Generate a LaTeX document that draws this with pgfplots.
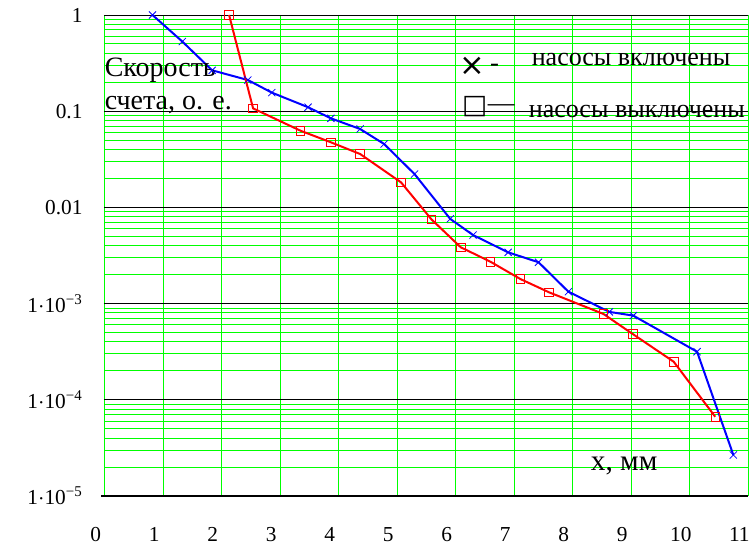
\documentclass[border=0pt]{standalone}
\usepackage{pgfplots}
\pgfplotsset{compat=1.18}
\usepackage{fontspec}
\setmainfont{Liberation Serif}
\newfontfamily\symf{DejaVu Sans}
\begin{document}
\begin{tikzpicture}
\begin{axis}[
  at={(0,0)}, anchor=south west,
  scale only axis, width=482.6pt, height=360.75pt,
  xmin=0, xmax=11, ymode=log, ymin=1e-5, ymax=1,
  xtick={0,1,2,3,4,5,6,7,8,9,10,11},
  ytick={1,0.1,0.01,0.001,0.0001,0.00001},
  yticklabels={1,0.1,0.01,{1$\cdot$10\textsuperscript{−3}},{1$\cdot$10\textsuperscript{−4}},{1$\cdot$10\textsuperscript{−5}}},
  minor ytick={2e-5,3e-5,4e-5,5e-5,6e-5,7e-5,8e-5,9e-5,
               2e-4,3e-4,4e-4,5e-4,6e-4,7e-4,8e-4,9e-4,
               2e-3,3e-3,4e-3,5e-3,6e-3,7e-3,8e-3,9e-3,
               0.02,0.03,0.04,0.05,0.06,0.07,0.08,0.09,
               0.2,0.3,0.4,0.5,0.6,0.7,0.8,0.9},
  major tick length=0, minor tick length=0,
  axis line style={draw=none},
  xmajorgrids, ymajorgrids, yminorgrids,
  major x grid style={green, line width=0.7pt},
  major y grid style={black, line width=0.7pt},
  minor y grid style={green, line width=0.7pt},
  /pgf/number format/assume math mode=true,
  tick label style={font=\fontsize{16}{18}\selectfont},
  xticklabel style={anchor=north, yshift=-20pt, xshift=-6.5pt},
  yticklabel style={anchor=east, xshift=-13pt},
  clip=false,
]
\draw[black, line width=1.6pt] (rel axis cs:-0.005,0) -- (rel axis cs:1,0);
\addplot[blue, line width=1.5pt, mark=x, mark size=3.8pt, mark options={line width=0.6pt}] coordinates {
(0.82,1) (1.33,0.53) (1.84,0.266) (2.45,0.211) (2.86,0.156) (3.48,0.11) (3.87,0.0843) (4.37,0.0653) (4.78,0.0456) (5.30,0.0222) (5.91,0.0076) (6.30,0.00516) (6.90,0.00341) (7.42,0.00269) (7.93,0.00133) (8.63,8.2e-4) (9.04,7.5e-4) (10.13,3.16e-4) (10.75,2.67e-5)
};
\addplot[red, line width=1.5pt, mark=square, mark size=3.2pt, mark options={line width=0.6pt}] coordinates {
(2.13,1) (2.54,0.107) (3.35,0.0627) (3.87,0.0475) (4.37,0.0359) (5.07,0.0182) (5.59,0.0075) (6.09,0.00385) (6.60,0.00272) (7.11,0.0018) (7.60,0.00131) (8.53,7.8e-4) (9.03,4.83e-4) (9.73,2.49e-4) (10.44,6.67e-5)
};
\node[anchor=base west, inner sep=0, font=\fontsize{21}{24}\selectfont] at (axis cs:0,0.232) {Скорость};
\node[anchor=base west, inner sep=0, font=\fontsize{21}{24}\selectfont] at (axis cs:0,0.103) {счета, о. е.};
\node[anchor=base west, inner sep=0, font=\fontsize{19.5}{24}\selectfont] at (axis cs:7.30,0.302) {насосы включены};
\node[anchor=base west, inner sep=0, font=\fontsize{19.5}{24}\selectfont] at (axis cs:7.25,0.085) {насосы выключены};
\node[anchor=center, inner sep=0, font=\symf\fontsize{23}{24}\selectfont] at (axis cs:6.29,0.29) {×};
\node[anchor=center, inner sep=0, font=\fontsize{20}{20}\selectfont] at (axis cs:6.67,0.285) {-};
\node[anchor=center, inner sep=0, font=\symf\fontsize{20}{20}\selectfont] at (axis cs:6.33,0.111) {□};
\node[anchor=center, inner sep=0, font=\fontsize{20}{20}\selectfont] at (axis cs:6.78,0.108) {—};
\node[anchor=base west, inner sep=0, font=\fontsize{22}{24}\selectfont] at (axis cs:8.31,1.86e-5) {x, мм};
\end{axis}
\pgfresetboundingbox
\path[use as bounding box] (-78.375pt,-36.75pt) rectangle (483.375pt,372pt);
\end{tikzpicture}
\end{document}
